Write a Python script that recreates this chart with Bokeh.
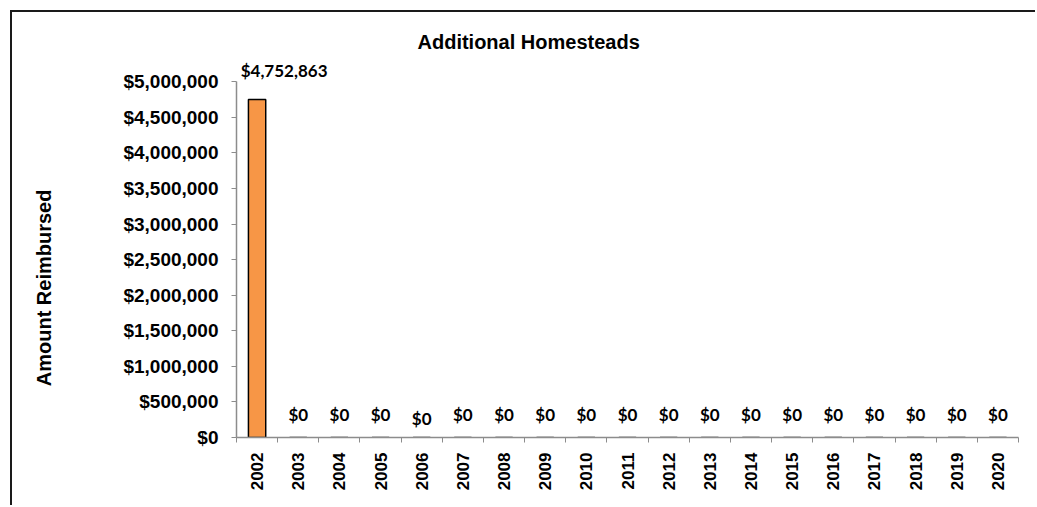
import math
from bokeh.plotting import figure
from bokeh.models import (Range1d, FixedTicker, NumeralTickFormatter, CustomJSTickFormatter,
                          ColumnDataSource, LabelSet, Label, Title, LinearAxis)
from bokeh.core.properties import value
from bokeh.embed import file_html
from bokeh.resources import INLINE

# ---- data ----
years = ["2002", "2003", "2004", "2005", "2006", "2007", "2008", "2009", "2010", "2011",
         "2012", "2013", "2014", "2015", "2016", "2017", "2018", "2019", "2020"]
amounts = [4752863, 0, 0, 0, 0, 0, 0, 0, 0, 0, 0, 0, 0, 0, 0, 0, 0, 0, 0]
y_ticks = list(range(0, 5000001, 500000))

AXIS_GRAY = "#8c8c8c"
BAR_FILL = "#F79646"

xs = list(range(len(years)))
labels = ["${:,.0f}".format(v) for v in amounts]
# small vertical nudge of the 2006 label as in the original
dy = [9 if y == "2006" else 13 for y in years]

src = ColumnDataSource(dict(x=xs, top=amounts))

p = figure(width=1025, height=495, output_backend="svg", toolbar_location=None,
           x_range=Range1d(-0.5, len(years) - 0.5), y_range=Range1d(0, 5300000),
           min_border_left=224, min_border_right=19, min_border_top=48, min_border_bottom=70,
           margin=(10, 0, 0, 10),
           styles={"border-left": "2px solid #1a1a1a", "border-top": "2px solid #1a1a1a"})

p.outline_line_color = None
p.xgrid.visible = False
p.ygrid.visible = False

# title
t = Title(text="Additional Homesteads", align="left", offset=181, standoff=15,
          text_font="Liberation Sans", text_font_size="20px", text_font_style="bold",
          text_color="#000000")
p.add_layout(t, "above")

# bars
p.vbar(x="x", top="top", width=0.42, bottom=0, source=src,
       fill_color=BAR_FILL, line_color="#000000", line_width=1.5)

# x axis
xa = p.xaxis[0]
xa.ticker = FixedTicker(ticks=xs, minor_ticks=[i - 0.5 for i in range(len(years) + 1)])
xa.formatter = CustomJSTickFormatter(args=dict(years=years),
                                     code="const i = Math.round(tick); return (i >= 0 && i < years.length) ? years[i] : '';")
xa.major_label_orientation = math.pi / 2
xa.major_tick_line_color = None
xa.major_tick_out = 5
xa.major_tick_in = 0
xa.minor_tick_line_color = AXIS_GRAY
xa.minor_tick_out = 5
xa.minor_tick_in = 0
xa.axis_line_color = AXIS_GRAY
xa.axis_line_width = 1.5
xa.major_label_standoff = 10
xa.major_label_text_font = "Liberation Sans"
xa.major_label_text_font_style = "bold"
xa.major_label_text_font_size = "17px"
xa.major_label_text_color = "#000000"

# y axis
ya = p.yaxis[0]
ya.ticker = FixedTicker(ticks=y_ticks)
ya.bounds = (y_ticks[0], y_ticks[-1])
ya.formatter = NumeralTickFormatter(format="$0,0")
ya.major_tick_line_color = AXIS_GRAY
ya.major_tick_out = 5
ya.major_tick_in = 0
ya.minor_tick_line_color = None
ya.axis_line_color = AXIS_GRAY
ya.axis_line_width = 1.5
ya.major_label_standoff = 13
ya.major_label_text_font = "Liberation Sans"
ya.major_label_text_font_style = "bold"
ya.major_label_text_font_size = "19px"
ya.major_label_text_color = "#000000"

# outer, invisible axis carrying the y-axis title; trailing no-break spaces
# lower the visible text to where the original places it
ta = LinearAxis(ticker=FixedTicker(ticks=[]),
                axis_line_color=None, major_tick_line_color=None, minor_tick_line_color=None,
                major_tick_out=0, major_tick_in=0, minor_tick_out=0, minor_tick_in=0,
                major_label_text_font_size="0px", major_label_standoff=0,
                axis_label="Amount Reimbursed" + "\u00a0" * 14, axis_label_standoff=66,
                axis_label_text_font="Liberation Sans", axis_label_text_font_size="20px",
                axis_label_text_font_style="bold", axis_label_text_color="#000000")
p.add_layout(ta, "left")

# data labels
zero_idx = [i for i, v in enumerate(amounts) if v == 0]
zsrc = ColumnDataSource(dict(x=[xs[i] for i in zero_idx], y=[amounts[i] for i in zero_idx],
                             label=[labels[i] for i in zero_idx], dy=[dy[i] for i in zero_idx]))
p.add_layout(LabelSet(x="x", y="y", text="label", y_offset="dy", source=zsrc,
                      text_align="center", text_baseline="bottom",
                      text_font=value("Lato"), text_font_style="bold", text_font_size="17px",
                      text_color="#000000"))

for i, v in enumerate(amounts):
    if v != 0:
        p.add_layout(Label(x=xs[i], y=v, text=labels[i], x_offset=27, y_offset=18,
                           text_align="center", text_baseline="bottom",
                           text_font="Lato", text_font_style="bold", text_font_size="17px",
                           text_color="#000000"))

open("out.html", "w").write(file_html(p, INLINE))
